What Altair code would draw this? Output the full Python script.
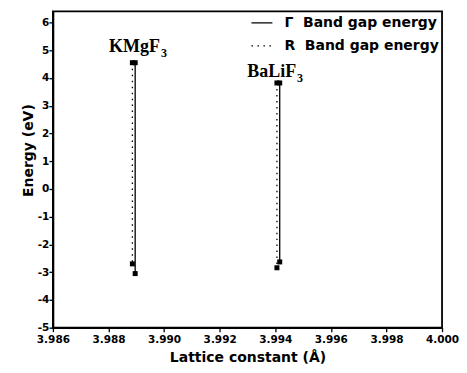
import altair as alt
import pandas as pd

# --- data ---
compounds = ["KMgF3", "KMgF3", "KMgF3", "KMgF3", "BaLiF3", "BaLiF3", "BaLiF3", "BaLiF3"]
series = ["Γ", "Γ", "R", "R", "Γ", "Γ", "R", "R"]
lattice = [3.98896, 3.98896, 3.98886, 3.98886, 3.99416, 3.99416, 3.99406, 3.99406]
energy = [4.55, -3.05, 4.55, -2.70, 3.82, -2.63, 3.82, -2.84]

label_main = ["KMgF", "BaLiF"]
label_sub = ["3", "3"]
label_x = [3.98985, 3.99475]
label_y = [4.93, 4.03]

legend_names = ["Γ", "R"]
legend_labels = ["Γ\u00a0\u00a0Band gap energy", "R\u00a0\u00a0Band gap energy"]

x_ticks = [3.986, 3.988, 3.990, 3.992, 3.994, 3.996, 3.998, 4.000]
y_ticks = [-5, -4, -3, -2, -1, 0, 1, 2, 3, 4, 5, 6]

df = pd.DataFrame({"compound": compounds, "series": series, "x": lattice, "y": energy})
lab = pd.DataFrame({"main": label_main, "sub": label_sub, "x": label_x, "y": label_y})

xs = alt.Scale(domain=[3.986, 4.000], nice=False)
ys = alt.Scale(domain=[-5, 6.4], nice=False)

X = alt.X("x:Q", scale=xs, title="Lattice constant (Å)",
          axis=alt.Axis(values=x_ticks, tickCount=20, format=".3f", grid=False,
                        labelOverlap=False))
Y = alt.Y("y:Q", scale=ys, title="Energy (eV)",
          axis=alt.Axis(values=y_ticks, tickCount=20, format="d", grid=False,
                        labelOverlap=False, titleY=139, titleX=-17,
                        labelExpr="replace(datum.label, '\u2212', '-')"))

lines = alt.Chart(df).mark_line(color="black", strokeWidth=1.3).encode(
    x=X, y=Y,
    detail="compound:N",
    strokeDash=alt.StrokeDash(
        "series:N",
        scale=alt.Scale(domain=legend_names, range=[[1, 0], [1.5, 4.5]]),
        legend=alt.Legend(
            title=None, orient="none", legendX=198, legendY=0,
            symbolType="stroke", symbolSize=440, symbolStrokeWidth=1.3,
            symbolStrokeColor="black",
            labelFont="DejaVu Sans", labelFontWeight="bold", labelFontSize=14,
            labelColor="black", rowPadding=4, labelOffset=11, labelLimit=400,
            labelExpr="datum.label == 'Γ' ? '" + legend_labels[0] + "' : '" + legend_labels[1] + "'",
        ),
    ),
)

points = alt.Chart(df).mark_square(color="black", size=25, opacity=1).encode(x=X, y=Y)

main_text = alt.Chart(lab).mark_text(
    font="Liberation Serif", fontWeight="bold", fontSize=18, align="right",
    baseline="alphabetic", color="black",
).encode(x=alt.X("x:Q", scale=xs), y=alt.Y("y:Q", scale=ys), text="main:N")

sub_text = alt.Chart(lab).mark_text(
    font="Liberation Serif", fontWeight="bold", fontSize=12, align="left",
    baseline="alphabetic", color="black", dy=5, dx=1,
).encode(x=alt.X("x:Q", scale=xs), y=alt.Y("y:Q", scale=ys), text="sub:N")

chart = alt.layer(lines, points, main_text, sub_text).properties(
    width=390, height=317,
    padding={"left": 14, "top": 3, "right": 0, "bottom": 0},
).configure_view(
    stroke="black", strokeWidth=1.8,
).configure_axis(
    domainColor="black", domainWidth=1.8, tickColor="black", tickWidth=1.3,
    tickSize=4, labelColor="black", labelFont="DejaVu Sans",
    labelFontWeight="bold", labelFontSize=10.5, titleFont="DejaVu Sans",
    titleFontWeight="bold", titleFontSize=14, titleColor="black",
).configure_axisX(
    labelPadding=3, titlePadding=5, labelFlush=False,
).configure_axisY(
    labelPadding=0, titlePadding=1,
)

chart.save("out.html", embed_options={"renderer": "svg", "actions": False})
